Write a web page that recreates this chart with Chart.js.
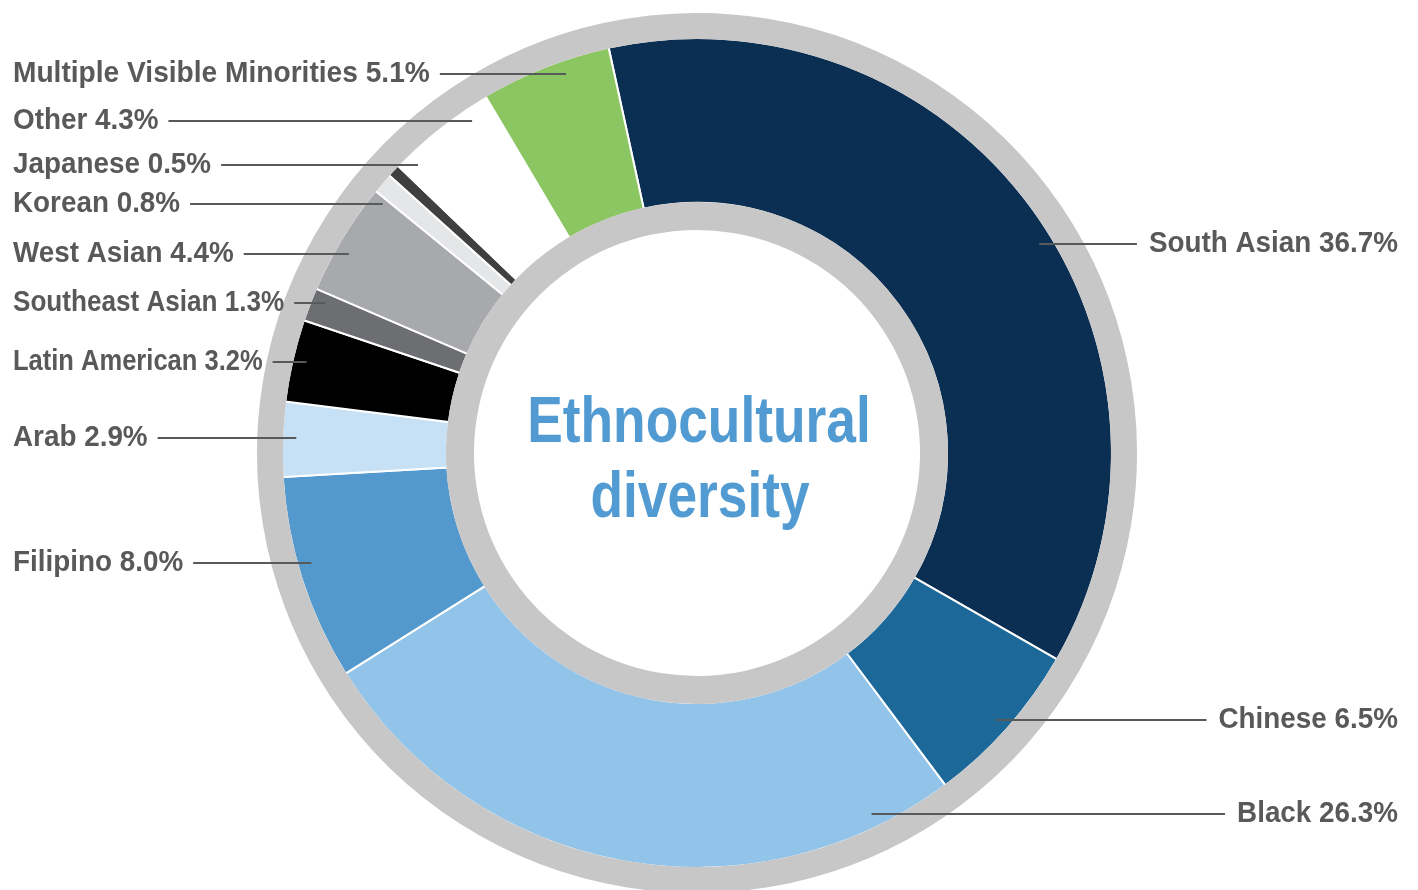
<!DOCTYPE html>
<html>
<head>
<meta charset="utf-8">
<title>Ethnocultural diversity</title>
<script src="https://cdn.jsdelivr.net/npm/chart.js@4.4.1/dist/chart.umd.min.js"></script>
<style>
  html, body { margin: 0; padding: 0; background: #fff; overflow: hidden; }
  #wrap { position: relative; width: 1418px; height: 900px; }
</style>
</head>
<body>
<div id="wrap"><canvas id="donut"></canvas></div>
<script>
// ── Data ──
const groups = ['South Asian', 'Chinese', 'Black', 'Filipino', 'Arab', 'Latin American',
  'Southeast Asian', 'West Asian', 'Korean', 'Japanese', 'Other', 'Multiple Visible Minorities'];
const shares = [36.7, 6.5, 26.3, 8.0, 2.9, 3.2, 1.3, 4.4, 0.8, 0.5, 4.3, 5.1];
const centerTitle = ['Ethnocultural', 'diversity'];

// ── Styles ──
const sliceColors = ['#0b2f52', '#1b6899', '#92c4ea', '#5399cd', '#c6e0f5', '#000000',
  '#6d6e71', '#a7a9ac', '#e5e6e7', '#3f3f40', '#ffffff', '#8bc662'];
const ringGrey = '#c8c7c8';
const textGrey = '#58595b';
const titleBlue = '#519bd2';

// ── Callout layout (which side, row y in px, horizontal squeeze) ──
const labelSide = ['right', 'right', 'right', 'left', 'left', 'left',
  'left', 'left', 'left', 'left', 'left', 'left'];
const labelRowY = [244, 720, 814, 563, 438, 362, 303, 254, 204, 165, 121, 74];
const labelSqueeze = [0.96, 0.96, 0.96, 0.96, 0.96, 0.88, 0.9, 0.96, 0.96, 0.96, 0.96, 0.97];

// condensed look: draw text squeezed horizontally
function squeezedText(ctx, text, x, y, squeeze) {
  ctx.save();
  ctx.translate(x, y);
  ctx.scale(squeeze, 1);
  ctx.fillText(text, 0, 0);
  ctx.restore();
}

// ── Callout labels + centre title ──
const calloutPlugin = {
  id: 'callouts',
  afterDatasetsDraw(chart) {
    const ctx = chart.ctx;
    const arc = chart.getDatasetMeta(1).data[0];
    const cx = arc.x, cy = arc.y;
    const reach = arc.outerRadius - 14;

    ctx.save();
    ctx.font = 'bold 29px "Liberation Sans", Arial, sans-serif';
    ctx.fillStyle = textGrey;
    ctx.strokeStyle = textGrey;
    ctx.lineWidth = 2;
    ctx.textBaseline = 'middle';

    groups.forEach((name, i) => {
      const text = name + ' ' + shares[i].toFixed(1) + '%';
      const y = labelRowY[i];
      const dy = y - cy;
      const dx = Math.sqrt(Math.max(reach * reach - dy * dy, 0));
      const squeeze = labelSqueeze[i];
      const w = ctx.measureText(text).width * squeeze;
      ctx.beginPath();
      if (labelSide[i] === 'left') {
        ctx.textAlign = 'left';
        squeezedText(ctx, text, 13, y, squeeze);
        ctx.moveTo(13 + w + 10, y);
        ctx.lineTo(cx - dx, y);
      } else {
        ctx.textAlign = 'right';
        squeezedText(ctx, text, 1398, y, squeeze);
        ctx.moveTo(cx + dx, y);
        ctx.lineTo(1398 - w - 12, y);
      }
      ctx.stroke();
    });

    // centre title
    ctx.font = 'bold 65px "Liberation Sans", Arial, sans-serif';
    ctx.fillStyle = titleBlue;
    ctx.textAlign = 'center';
    ctx.textBaseline = 'alphabetic';
    squeezedText(ctx, centerTitle[0], cx + 2, cy - 11, 0.82);
    squeezedText(ctx, centerTitle[1], cx + 3, cy + 64, 0.82);
    ctx.restore();
  }
};

new Chart(document.getElementById('donut'), {
  type: 'doughnut',
  data: {
    labels: groups,
    datasets: [
      { data: [1], backgroundColor: ringGrey, borderColor: ringGrey, borderWidth: 2,
        hoverBorderWidth: 2, weight: 24, order: 1 },
      { data: shares, backgroundColor: sliceColors, borderColor: '#ffffff', borderWidth: 2,
        hoverBorderWidth: 2, weight: 165, order: 2 },
      { data: [1], backgroundColor: ringGrey, borderColor: ringGrey, borderWidth: 2,
        hoverBorderWidth: 2, weight: 26, order: 1 }
    ]
  },
  options: {
    responsive: true,
    maintainAspectRatio: false,
    animation: false,
    events: [],
    rotation: -12.3,
    cutout: 224,
    layout: { padding: { left: 257, right: 281, top: 13, bottom: 7 } },
    plugins: { legend: { display: false }, tooltip: { enabled: false } }
  },
  plugins: [calloutPlugin]
});
</script>
</body>
</html>
